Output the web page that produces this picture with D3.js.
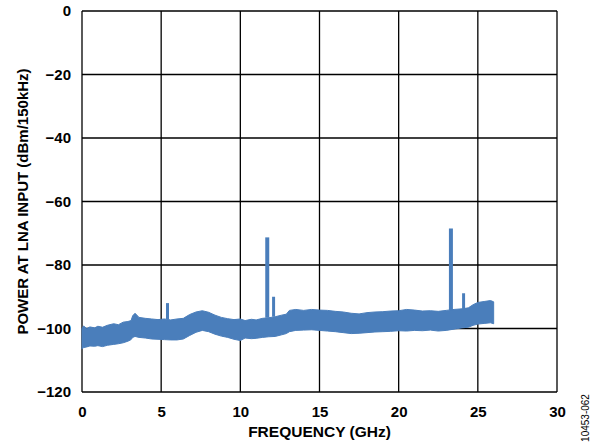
<!DOCTYPE html>
<html>
<head>
<meta charset="utf-8">
<script src="https://cdn.jsdelivr.net/npm/d3@7"></script>
<style>
  body { margin: 0; background: #fff; }
  svg { display: block; font-family: "Liberation Sans", Arial, sans-serif; }
</style>
</head>
<body>
<div id="chart"></div>
<script>
// noise floor envelope
var freqGHz = [0.0, 0.1, 0.3, 0.5, 0.8, 1.0, 1.3, 1.6, 2.0, 2.3, 2.6, 2.9, 3.1, 3.2, 3.35, 3.6, 4.0, 4.4, 4.8, 5.2,
    5.6, 6.0, 6.4, 6.8, 7.2, 7.6, 8.0, 8.4, 8.8, 9.2, 9.6, 10.0, 10.3, 10.7, 11.0, 11.4, 11.8, 12.2, 12.6, 12.9,
    13.1, 13.5, 14.0, 14.5, 15.0, 15.5, 16.0, 16.5, 17.0, 17.5, 18.0, 18.5, 19.0, 19.5, 20.0, 20.5, 21.0, 21.5,
    22.0, 22.5, 23.0, 23.5, 24.0, 24.4, 24.7, 25.0, 25.4, 25.8, 26.0];
var upperDbm = [-100.0, -99.2, -100.0, -99.5, -99.8, -99.3, -99.6, -99.0, -98.5, -98.8, -98.0, -97.8, -97.5, -96.0, -95.2, -96.5, -96.8, -97.0, -97.2, -97.0,
    -97.3, -97.0, -96.8, -95.6, -94.8, -94.4, -94.9, -95.8, -96.5, -96.9, -97.2, -97.0, -97.5, -97.1, -97.3, -96.8, -96.6, -96.3, -95.8, -95.5,
    -94.3, -94.0, -94.3, -94.0, -94.2, -94.3, -94.6, -94.8, -95.2, -95.4, -95.0, -94.8, -94.7, -94.5, -94.4, -94.0, -94.2, -94.5,
    -94.4, -94.6, -94.3, -94.0, -93.8, -93.5, -92.5, -91.8, -91.5, -91.2, -91.6];
var lowerDbm = [-106.5, -106.0, -105.8, -105.5, -105.6, -105.4, -105.7, -105.3, -105.0, -104.8, -104.5, -104.0, -103.5, -102.8, -102.5, -102.8, -103.0, -103.3, -103.4, -103.5,
    -103.6, -103.6, -103.3, -102.2, -101.2, -100.6, -101.0, -101.8, -102.4, -102.8, -103.4, -103.8, -103.0, -103.2, -103.1, -102.8, -102.6, -102.5, -102.0, -101.6,
    -101.0, -100.6, -100.5, -100.4, -100.6, -100.8, -101.0, -101.3, -101.6, -101.5, -101.3, -101.1, -101.0, -100.9, -100.7, -100.8, -100.6, -100.7,
    -100.5, -100.8, -100.6, -100.2, -99.8, -99.6, -99.0, -98.6, -98.4, -98.2, -98.5];

// spurs
var spurFreq = [5.4, 11.7, 12.1, 23.3, 24.1];
var spurTop = [-92.0, -71.3, -90.0, -68.5, -88.9];
var spurBase = [-97.0, -96.6, -96.3, -94.2, -93.8];

var xTicks = [0, 5, 10, 15, 20, 25, 30];
var yTicks = [0, -20, -40, -60, -80, -100, -120];

var width = 595, height = 448;
var margin = { left: 82, right: 38, top: 11, bottom: 56 };
var blue = '#4a7ebb';

var svg = d3.select('#chart').append('svg')
    .attr('width', width)
    .attr('height', height);

var x = d3.scaleLinear().domain([0, 30]).range([margin.left, width - margin.right]);
var y = d3.scaleLinear().domain([-120, 0]).range([height - margin.bottom, margin.top]);

// grid
svg.append('g').selectAll('line.v').data(xTicks).join('line')
    .attr('x1', d => x(d)).attr('x2', d => x(d))
    .attr('y1', y(0)).attr('y2', y(-120))
    .attr('stroke', '#000').attr('stroke-width', 1.3);
svg.append('g').selectAll('line.h').data(yTicks).join('line')
    .attr('x1', x(0)).attr('x2', x(30))
    .attr('y1', d => y(d)).attr('y2', d => y(d))
    .attr('stroke', '#000').attr('stroke-width', 1.3);

// noise band
var band = freqGHz.map((f, i) => ({ f: f, hi: upperDbm[i], lo: lowerDbm[i] }));
svg.append('path')
    .datum(band)
    .attr('d', d3.area().x(d => x(d.f)).y0(d => y(d.lo)).y1(d => y(d.hi)))
    .attr('fill', blue)
    .attr('stroke', blue)
    .attr('stroke-width', 1);

// spurs
svg.append('g').selectAll('line').data(spurFreq).join('line')
    .attr('x1', d => x(d)).attr('x2', d => x(d))
    .attr('y1', (d, i) => y(spurBase[i])).attr('y2', (d, i) => y(spurTop[i]))
    .attr('stroke', blue)
    .attr('stroke-width', (d, i) => i === 1 || i === 3 ? 4 : 3);

// axes (labels only)
var yAxis = svg.append('g')
    .attr('transform', 'translate(' + x(0) + ',0)')
    .call(d3.axisLeft(y).tickValues(yTicks).tickSize(0).tickPadding(11));
var xAxis = svg.append('g')
    .attr('transform', 'translate(0,' + y(-120) + ')')
    .call(d3.axisBottom(x).tickValues(xTicks).tickSize(0).tickPadding(14));
[yAxis, xAxis].forEach(a => {
    a.select('.domain').remove();
    a.selectAll('text')
        .attr('font-size', 15)
        .attr('font-weight', 'bold')
        .attr('font-family', '"Liberation Sans", Arial, sans-serif')
        .attr('fill', '#000');
});

svg.append('text')
    .text('FREQUENCY (GHz)')
    .attr('x', (x(0) + x(30)) / 2)
    .attr('y', 437)
    .attr('text-anchor', 'middle')
    .attr('font-size', 15.5)
    .attr('font-weight', 'bold');

svg.append('text')
    .text('POWER AT LNA INPUT (dBm/150kHz)')
    .attr('transform', 'translate(28,' + ((y(0) + y(-120)) / 2) + ') rotate(-90)')
    .attr('text-anchor', 'middle')
    .attr('font-size', 15)
    .attr('font-weight', 'bold');

svg.append('text')
    .text('10453-062')
    .attr('transform', 'translate(589,418) rotate(-90)')
    .attr('text-anchor', 'middle')
    .attr('font-size', 10);
</script>
</body>
</html>
